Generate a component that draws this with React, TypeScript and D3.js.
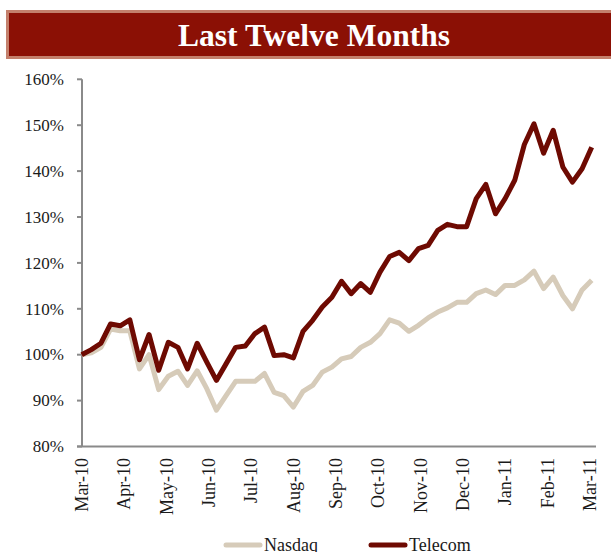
import React from "react";
import * as d3 from "d3";

const months = ["Mar-10","Apr-10","May-10","Jun-10","Jul-10","Aug-10","Sep-10","Oct-10","Nov-10","Dec-10","Jan-11","Feb-11","Mar-11"];
const yTicks = [80, 90, 100, 110, 120, 130, 140, 150, 160];

const telecom = [
  100.0, 101.1, 102.5, 106.7, 106.3, 107.6, 98.9, 104.4, 96.6, 102.7,
  101.6, 96.9, 102.5, 98.4, 94.4, 98.0, 101.6, 101.9, 104.6, 106.0,
  99.8, 100.0, 99.3, 105.1, 107.5, 110.4, 112.5, 116.0, 113.3, 115.5,
  113.6, 118.0, 121.4, 122.3, 120.5, 123.1, 123.8, 127.1, 128.4, 127.9,
  127.9, 134.0, 137.1, 130.7, 134.0, 138.0, 145.8, 150.3, 143.9, 148.9,
  140.9, 137.6, 140.5, 145.2,
];

const nasdaq = [
  100.0, 100.4, 101.6, 105.6, 105.2, 105.2, 96.9, 100.0, 92.4, 95.3,
  96.4, 93.3, 96.5, 92.6, 87.9, 91.1, 94.2, 94.2, 94.2, 95.9,
  91.8, 91.1, 88.6, 92.0, 93.3, 96.2, 97.3, 99.1, 99.6, 101.6,
  102.7, 104.6, 107.6, 106.9, 105.1, 106.4, 108.0, 109.3, 110.2, 111.4,
  111.4, 113.3, 114.1, 113.1, 115.1, 115.1, 116.3, 118.2, 114.4, 116.9,
  112.9, 110.0, 114.1, 116.2,
];

const seriesNames = ["Nasdaq", "Telecom"];
const title = "Last Twelve Months";

const W = 611;
const H = 552;
const FONT = "'Liberation Serif', 'Times New Roman', serif";
const TEL_COLOR = "#6e0a02";
const NAS_COLOR = "#d6cbb9";
const AXIS_COLOR = "#8a8a8a";

export default function App() {
  const x = d3.scaleLinear().domain([0, telecom.length - 1]).range([81.7, 591.7]);
  const xm = d3.scaleLinear().domain([0, months.length - 1]).range([82, 590]);
  const y = d3.scaleLinear().domain([80, 160]).range([446.5, 79.3]);

  const line = d3
    .line<number>()
    .x((_, i) => x(i))
    .y((d) => y(d));

  return (
    <svg
      width={W}
      height={H}
      style={{ position: "absolute", left: 0, top: 0, display: "block", background: "#fff" }}
      fontFamily={FONT}
    >
      {/* Title bar */}
      <rect x={7.5} y={11.5} width={620} height={46} fill="#8b1005" stroke="#c4806c" strokeWidth={3} />
      <text x={314} y={46} textAnchor="middle" fill="#fff" fontWeight="bold" fontSize={31.5}>
        {title}
      </text>

      {/* Y axis */}
      <line x1={82} x2={82} y1={y(160)} y2={y(80)} stroke={AXIS_COLOR} strokeWidth={2} />
      {yTicks.map((t) => (
        <g key={t}>
          <line x1={77} x2={82} y1={y(t)} y2={y(t)} stroke={AXIS_COLOR} strokeWidth={2} />
          <text x={64} y={y(t)} dy="0.34em" textAnchor="end" fontSize={17} fill="#1a1a1a">
            {d3.format(".0%")(t / 100)}
          </text>
        </g>
      ))}

      {/* X axis */}
      <line x1={77} x2={596} y1={y(80)} y2={y(80)} stroke={AXIS_COLOR} strokeWidth={2} />
      {months.map((m, i) => (
        <text
          key={m}
          transform={`translate(${xm(i) + 6},${458}) rotate(-90)`}
          textAnchor="end"
          fontSize={18}
          fill="#1a1a1a"
        >
          {m}
        </text>
      ))}

      {/* Lines */}
      <path d={line(nasdaq) || ""} fill="none" stroke={NAS_COLOR} strokeWidth={5} strokeLinejoin="round" />
      <path d={line(telecom) || ""} fill="none" stroke={TEL_COLOR} strokeWidth={5} strokeLinejoin="round" />

      {/* Legend */}
      <line x1={226} x2={260} y1={545} y2={545} stroke={NAS_COLOR} strokeWidth={5} strokeLinecap="round" />
      <text x={264} y={551} fontSize={18} fill="#1a1a1a">{seriesNames[0]}</text>
      <line x1={371} x2={405} y1={545} y2={545} stroke={TEL_COLOR} strokeWidth={5} strokeLinecap="round" />
      <text x={409} y={551} fontSize={18} fill="#1a1a1a">{seriesNames[1]}</text>
    </svg>
  );
}
